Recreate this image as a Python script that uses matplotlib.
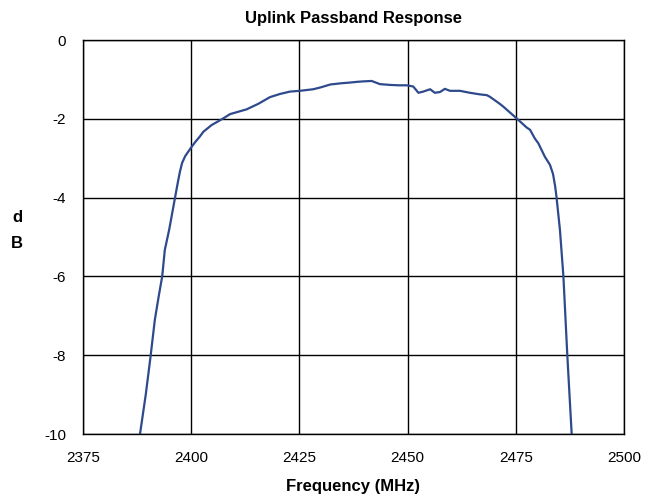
import matplotlib
matplotlib.use("Agg")
import matplotlib.pyplot as plt
from matplotlib import font_manager

names = {f.name for f in font_manager.fontManager.ttflist}
fam = ["Liberation Sans Narrow", "Liberation Sans", "DejaVu Sans"]
fam = [f for f in fam if f in names] + ["DejaVu Sans"]
plt.rcParams['font.family'] = fam
plt.rcParams['axes.unicode_minus'] = False

freq_mhz = [2388.2, 2389.5, 2390.6, 2391.6, 2392.5, 2393.3, 2393.9, 2394.9, 2395.6, 2396.3,
            2396.9, 2397.4, 2397.9, 2398.6, 2400.1, 2401.0, 2402.0, 2402.8, 2404.7, 2407.4,
            2409.0, 2412.8, 2415.5, 2418.2, 2420.5, 2422.8, 2425.1, 2428.2, 2430.0, 2432.1,
            2434.5, 2436.7, 2438.5, 2439.8, 2441.7, 2443.6, 2445.9, 2448.0, 2449.8, 2451.3,
            2452.5, 2453.6, 2455.2, 2456.3, 2457.5, 2458.6, 2459.8, 2462.1, 2464.4, 2466.7,
            2468.3, 2469.0, 2471.3, 2472.1, 2475.2, 2477.5, 2478.3, 2479.4, 2480.2, 2481.7,
            2482.9, 2483.6, 2484.1, 2484.4, 2485.2, 2486.0, 2486.9, 2487.9]
gain_db = [-9.98, -9.00, -8.04, -7.10, -6.50, -6.00, -5.33, -4.82, -4.40, -3.98,
           -3.62, -3.34, -3.12, -2.95, -2.71, -2.58, -2.45, -2.33, -2.16, -1.99,
           -1.88, -1.76, -1.62, -1.45, -1.37, -1.31, -1.29, -1.25, -1.20, -1.13,
           -1.10, -1.08, -1.06, -1.05, -1.04, -1.12, -1.14, -1.15, -1.15, -1.18,
           -1.34, -1.31, -1.25, -1.34, -1.32, -1.24, -1.29, -1.29, -1.34, -1.38,
           -1.40, -1.44, -1.62, -1.69, -1.99, -2.22, -2.28, -2.50, -2.62, -2.96,
           -3.17, -3.40, -3.72, -3.98, -4.82, -6.00, -8.00, -9.98]

x_ticks = [2375, 2400, 2425, 2450, 2475, 2500]
y_ticks = [0, -2, -4, -6, -8, -10]

fig = plt.figure(figsize=(6.54, 5.03), dpi=100)
ax = fig.add_axes([83/654, 1-434/503, (624-83)/654, (434-40)/503])
ax.plot(freq_mhz, gain_db, color="#2E4A8C", lw=1.6)
ax.set_xlim(2375, 2500)
ax.set_ylim(-10, 0)
ax.set_xticks(x_ticks)
ax.set_yticks(y_ticks)
ax.grid(True, color="black", lw=1.0)
ax.set_axisbelow(True)
for s in ax.spines.values():
    s.set_color("black")
    s.set_linewidth(1.0)
ax.tick_params(length=0, labelsize=11, pad=12)
ax.set_title("Uplink Passband Response", fontsize=12, fontweight="bold", pad=12)
ax.set_xlabel("Frequency (MHz)", fontsize=12, fontweight="bold", labelpad=10)
fig.text(17/654, 1-218/503, "d", fontsize=12, fontweight="bold", ha="center", va="center")
fig.text(17/654, 1-244/503, "B", fontsize=12, fontweight="bold", ha="center", va="center")
fig.savefig("out.png", dpi=100)
